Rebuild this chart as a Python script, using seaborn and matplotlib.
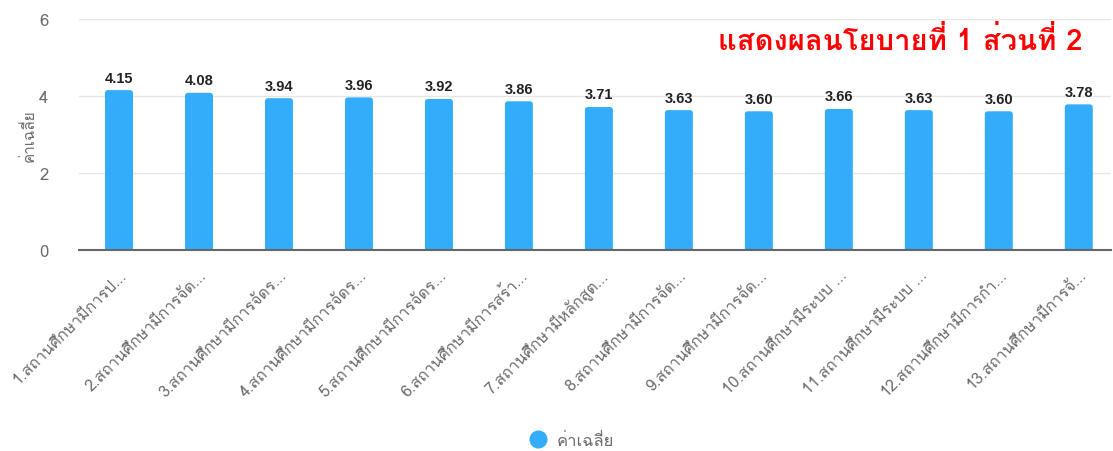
import pandas as pd
import matplotlib
matplotlib.use("Agg")
import matplotlib.pyplot as plt
from matplotlib.lines import Line2D
from matplotlib.patches import FancyBboxPatch
import seaborn as sns

# ข้อมูลจากกราฟ
หัวข้อ = [
    "1.สถานศึกษามีการป...",
    "2.สถานศึกษามีการจัด...",
    "3.สถานศึกษามีการจัดร...",
    "4.สถานศึกษามีการจัดร...",
    "5.สถานศึกษามีการจัดร...",
    "6.สถานศึกษามีการสร้า...",
    "7.สถานศึกษามีหลักสูต...",
    "8.สถานศึกษามีการจัด...",
    "9.สถานศึกษามีการจัด...",
    "10.สถานศึกษามีระบบ ...",
    "11.สถานศึกษามีระบบ ...",
    "12.สถานศึกษามีการกำ...",
    "13.สถานศึกษามีการจั...",
]
ค่าเฉลี่ย = [4.15, 4.08, 3.94, 3.96, 3.92, 3.86, 3.71, 3.63, 3.60, 3.66, 3.63, 3.60, 3.78]
ชื่อชุดข้อมูล = "ค่าเฉลี่ย"
ชื่อกราฟ = "แสดงผลนโยบายที่ 1 ส่วนที่ 2"

df = pd.DataFrame({"หัวข้อ": หัวข้อ, "ค่าเฉลี่ย": ค่าเฉลี่ย})

sns.set_style("white")
plt.rcParams["font.family"] = ["Loma", "Noto Sans Thai Looped", "DejaVu Sans"]

สีแท่ง = "#33adf9"
สีตัวอักษร = "#6b6b6b"

fig = plt.figure(figsize=(11.13, 4.52), dpi=100)
ax = fig.add_axes([0.071, 0.445, 0.927, 0.511])

sns.barplot(data=df, x="หัวข้อ", y="ค่าเฉลี่ย", color=สีแท่ง, width=0.35,
            saturation=1, ax=ax, zorder=3)

ax.set_ylim(0, 6)
ax.set_yticks([0, 2, 4, 6])
ax.set_xlim(-0.5, 12.4)

# ป้ายค่าบนแท่ง
ax.bar_label(ax.containers[0], fmt="%.2f", padding=4, fontsize=10.5,
             fontweight="bold", color="#222222",
             family=["Liberation Sans", "DejaVu Sans"])

# ทำมุมแท่งให้โค้ง
aspect = (6 / (0.511 * 452)) / (12.9 / (0.927 * 1113))
for p in ax.patches:
    x, w, h = p.get_x(), p.get_width(), p.get_height()
    p.set_visible(False)
    ax.add_patch(FancyBboxPatch((x, -0.2), w, h + 0.2,
                                boxstyle="round,pad=0,rounding_size=0.04",
                                mutation_aspect=aspect, facecolor=สีแท่ง,
                                edgecolor="none", zorder=3))

ax.grid(axis="y", color="#e6e6e6", linewidth=1, zorder=0)
for s in ["top", "right", "left"]:
    ax.spines[s].set_visible(False)
ax.spines["bottom"].set_color("#666666")
ax.spines["bottom"].set_linewidth(1.5)
ax.spines["bottom"].set_zorder(4)

ax.tick_params(axis="y", length=0, pad=22, labelsize=12, labelcolor=สีตัวอักษร)
ax.tick_params(axis="x", length=0, pad=12, labelsize=11.5, labelcolor=สีตัวอักษร)
plt.setp(ax.get_xticklabels(), rotation=45, ha="right", rotation_mode="anchor")

ax.set_xlabel("")
ax.set_ylabel(ชื่อชุดข้อมูล, fontsize=11, color=สีตัวอักษร)
ax.yaxis.set_label_coords(-0.041, 0.5)

fig.text(0.973, 0.908, ชื่อกราฟ, ha="right", va="center", fontsize=21,
         fontweight="bold", color="#ff0000")

handle = Line2D([], [], marker="o", linestyle="", markersize=12,
                markerfacecolor=สีแท่ง, markeredgecolor=สีแท่ง)
fig.legend([handle], [ชื่อชุดข้อมูล], loc="center", bbox_to_anchor=(0.51, 0.022),
           frameon=False, fontsize=12, labelcolor=สีตัวอักษร, handletextpad=0.1)

fig.savefig("out.png", dpi=100)
